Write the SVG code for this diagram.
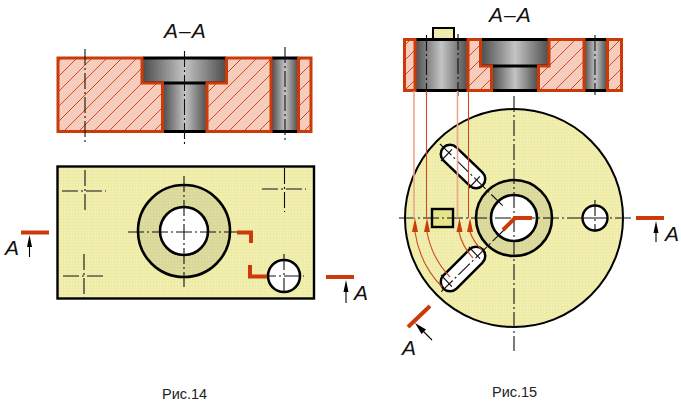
<svg xmlns="http://www.w3.org/2000/svg" width="681" height="406" viewBox="0 0 681 406">
<style>
.ob{stroke:#000;stroke-width:2.800}
.cl{stroke:#111;stroke-width:1.100;fill:none;stroke-dasharray:16 3 2 3}
.sec{stroke:#cc3a0a;stroke-width:3;stroke-linejoin:miter}
.red{stroke:#cc3a0a;stroke-width:4;fill:none}
.thin{stroke:#cc4a22;stroke-width:1.100;fill:none}
.light{stroke:#eda58e;stroke-width:1.600;fill:none}
.y{fill:url(#yel)}
.dim{stroke:#000;stroke-width:1.100;fill:none}
.rh{fill:#cc3a0a}
text{font-family:"Liberation Sans",Arial,sans-serif;fill:#111}
.a{font-style:italic;font-size:21px}
.cap{font-size:14.500px;fill:#222}
</style>
<defs>
<pattern id="yel" width="3" height="3" patternUnits="userSpaceOnUse"><rect width="3" height="3" fill="#f2efb2"/><path d="M0 .5H3M.5 0V3" stroke="#ebe89f" stroke-width=".6"/></pattern>
<pattern id="ring" width="3" height="3" patternUnits="userSpaceOnUse"><rect width="3" height="3" fill="#dfdca0"/><path d="M0 .5H3M.5 0V3" stroke="#d6d396" stroke-width=".6"/></pattern>
<pattern id="hatch" width="15" height="15" patternUnits="userSpaceOnUse"><rect width="15" height="15" fill="#f6cdbd"/><path d="M-2 17L17 -2M-2 2L2 -2M13 17L17 13" stroke="#d4471f" stroke-width="1"/></pattern>
<linearGradient id="g"><stop offset="0" stop-color="#4d4d4d"/><stop offset=".5" stop-color="#c4c4c4"/><stop offset="1" stop-color="#4d4d4d"/></linearGradient>
</defs>

<g id="fig14-section">
<rect x="143" y="57" width="83" height="26" fill="url(#g)"/>
<rect x="163" y="83" width="44" height="49" fill="url(#g)"/>
<rect x="272" y="57" width="26" height="75" fill="url(#g)"/>
<path class="ob" fill="none" d="M143 58H226M143 83H226M163 131.500H207M272 58H298M272 131.500H298"/>
<path class="sec" fill="url(#hatch)" d="M58 58H142V83H162.500V131.500H58Z"/>
<path class="sec" fill="url(#hatch)" d="M226.500 58H271V131.500H207V83H226.500Z"/>
<path class="sec" fill="url(#hatch)" d="M298.500 58H311V131.500H298.500Z"/>
<path class="cl" d="M85 49V145M184.500 51V146M285 47V143"/>
<text class="a" x="164" y="38" letter-spacing="1">A–A</text>
</g>

<g id="fig14-plan">
<rect x="57.500" y="166.500" width="256.500" height="132" class="y" stroke="#000" stroke-width="2.400"/>
<circle cx="184" cy="231" r="46" fill="url(#ring)" stroke="#000" stroke-width="2.600"/>
<circle cx="184" cy="231" r="24" fill="#fff" stroke="#000" stroke-width="2.600"/>
<circle cx="284" cy="276" r="16" fill="#fff" stroke="#000" stroke-width="2.600"/>
<path class="cl" d="M85 170V212M62 191H106M84 254V298M63 276H106M284.500 168V212M262 189H306"/>
<path class="cl" d="M128 232H241M184 176V287M284 254V292M260 276H304"/>
<path class="red" d="M237 232.500H251V243M250 265V276.500H267"/>
<path class="red" d="M21 232.500H49M326 277H354"/>
<path class="dim" d="M29.500 240V257M346 285V303"/>
<path d="M29.500 235L32 247H27ZM346 280L348.500 292H343.500Z"/>
<text class="a" x="5" y="255">A</text>
<text class="a" x="354" y="300">A</text>
</g>

<g id="fig15-section">
<rect x="433" y="28" width="21" height="11" class="y" stroke="#000" stroke-width="2"/>
<rect x="415" y="39" width="53" height="52" fill="url(#g)"/>
<rect x="481" y="39" width="68" height="27" fill="url(#g)"/>
<rect x="492" y="66" width="46" height="25" fill="url(#g)"/>
<rect x="584" y="39" width="23" height="52" fill="url(#g)"/>
<path class="ob" fill="none" d="M415 39.500H468M415 90.500H468M481 39.500H549M481 66H549M492 90.500H538M584 39.500H607M584 90.500H607"/>
<path class="sec" fill="url(#hatch)" d="M404.500 39.500H415V90.500H404.500Z"/>
<path class="sec" fill="url(#hatch)" d="M468 39.500H480.500V66H491.500V90.500H468Z"/>
<path class="sec" fill="url(#hatch)" d="M549 39.500H584V90.500H538.500V66H549Z"/>
<path class="sec" fill="url(#hatch)" d="M607.500 39.500H621.500V90.500H607.500Z"/>
<path class="cl" d="M426.500 35V96M458 34V96M595 35V95"/>
<text class="a" x="489" y="22" letter-spacing="1">A–A</text>
</g>

<g id="fig15-plan">
<circle cx="514" cy="218" r="109" class="y" stroke="#000" stroke-width="2"/>
<circle cx="514" cy="218" r="38" fill="url(#ring)" stroke="#000" stroke-width="2.600"/>
<circle cx="514" cy="218" r="23" fill="#fff" stroke="#000" stroke-width="2.600"/>
<circle cx="595" cy="218" r="12.500" fill="#fff" stroke="#000" stroke-width="2.400"/>
<rect x="432" y="209" width="21" height="18" fill="#e6e48a" stroke="#000" stroke-width="2.400"/>
<path stroke="#000" stroke-width="21" stroke-linecap="round" d="M450 154L476 179"/>
<path stroke="#fff" stroke-width="16" stroke-linecap="round" d="M450 154L476 179"/>
<path stroke="#000" stroke-width="21" stroke-linecap="round" d="M476 256L450 282"/>
<path stroke="#fff" stroke-width="16" stroke-linecap="round" d="M476 256L450 282"/>
<path class="cl" d="M399 218H633M514 96V351M440 144L503 206M504 230L441 292M583 218H607M595 200V232"/>
<path class="cl" d="M441 161L456 145M469 188L484 172M469 247L484 263M441 275L456 291"/>
</g>

<g id="fig15-projections">
<path class="light" d="M414 91V218M457.500 91V218"/>
<path class="thin" d="M426.500 91V218M468.500 91V218"/>
<path class="thin" d="M415 232A100 100 0 0 0 442 287M427 232A88 88 0 0 0 450 277M459 232A57 57 0 0 0 473 258M470 232A46 46 0 0 0 482 250"/>
<path class="rh" d="M415 218L418 232H412ZM427 218L430 232H424ZM459.500 218L462.500 232H456.500ZM470 218L473 232H467Z"/>
</g>

<g id="fig15-marks">
<path class="red" d="M532 218H515L503 230"/>
<path class="red" d="M636 218H664M408 327L430 306"/>
<path class="dim" d="M656 226V242M420 328L432 340"/>
<path d="M656 221L658.500 233H653.500ZM415 323L426 329.500L421.500 334Z"/>
<text class="a" x="665" y="241">A</text>
<text class="a" x="402" y="355">A</text>
</g>

<text class="cap" x="162" y="399">Рис.14</text>
<text class="cap" x="492" y="397">Рис.15</text>
</svg>
